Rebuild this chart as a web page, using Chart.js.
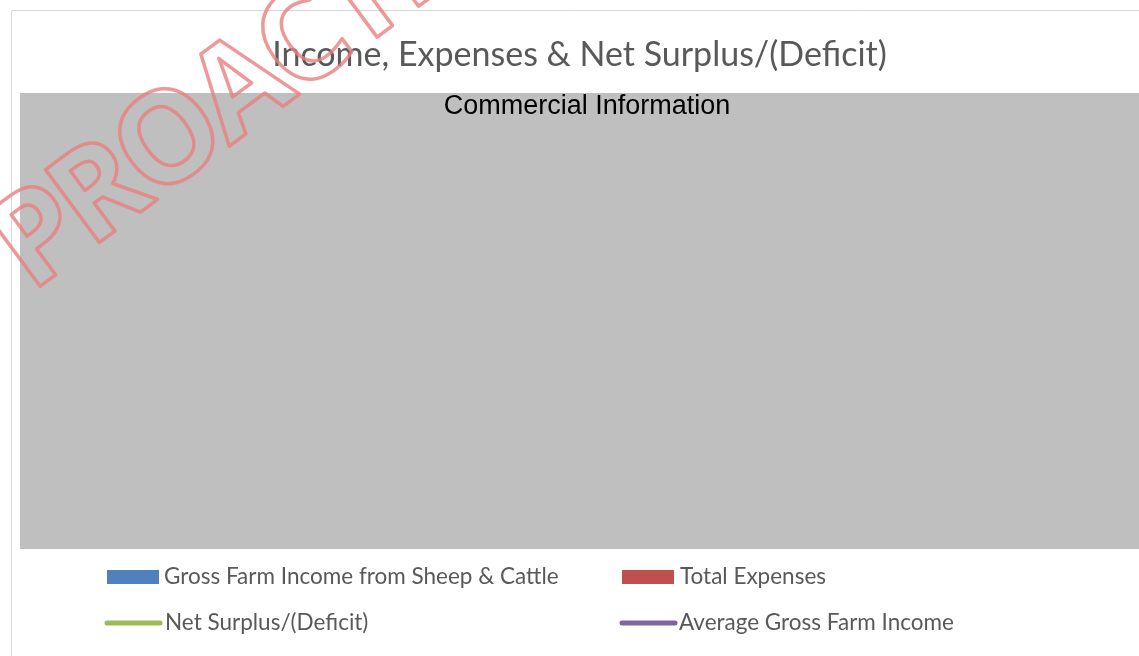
<!DOCTYPE html>
<html lang="en">
<head>
  <meta charset="UTF-8" />
  <title>Income, Expenses & Net Surplus/(Deficit)</title>
  <script src="https://cdn.jsdelivr.net/npm/chart.js"></script>
  <style>
    html, body { margin: 0; padding: 0; background: #fff; overflow: hidden; }
    #wrap { width: 1139px; height: 656px; }
  </style>
</head>
<body>
<div id="wrap"><canvas id="chart"></canvas></div>

<script>
// The plot area is covered by a grey "Commercial Information" panel, so no values show
const categories = [];
const grossIncome = [];
const totalExpenses = [];
const netSurplus = [];
const avgGrossIncome = [];

const seriesLabels = [
  'Gross Farm Income from Sheep & Cattle',
  'Total Expenses',
  'Net Surplus/(Deficit)',
  'Average Gross Farm Income'
];
const seriesColors = ['#4f81bd', '#c0504d', '#9bbb59', '#8064a2'];

const panelText = 'Commercial Information';
const watermarkText = 'PROACTIVE';

// grey panel over the plot area + chart border
const panelPlugin = {
  id: 'panel',
  beforeDraw(chart) {
    const ctx = chart.ctx;
    ctx.save();
    ctx.strokeStyle = '#d9d9d9';
    ctx.lineWidth = 1;
    ctx.beginPath();
    ctx.moveTo(11.5, chart.height + 5);
    ctx.lineTo(11.5, 10.5);
    ctx.lineTo(chart.width + 5, 10.5);
    ctx.stroke();
    ctx.restore();
  },
  afterDatasetsDraw(chart) {
    const ctx = chart.ctx;
    const a = chart.chartArea;
    ctx.save();
    ctx.fillStyle = '#bfbfbf';
    ctx.fillRect(a.left, a.top, a.right - a.left, a.bottom - a.top);
    ctx.fillStyle = '#000';
    ctx.font = '27px "Liberation Sans", Arial, sans-serif';
    ctx.textAlign = 'center';
    ctx.textBaseline = 'alphabetic';
    ctx.fillText(panelText, 587, a.top + 21);
    ctx.restore();
  }
};

// two-column legend, drawn under the panel
const legendPlugin = {
  id: 'twoColLegend',
  afterDraw(chart) {
    const ctx = chart.ctx;
    const items = [
      { x: 107, y: 577, text: 164 },
      { x: 622, y: 577, text: 680 },
      { x: 105, y: 623, text: 165 },
      { x: 620, y: 623, text: 679 }
    ];
    ctx.save();
    ctx.font = '22.5px Lato, "Open Sans", sans-serif';
    ctx.textBaseline = 'middle';
    ctx.textAlign = 'left';
    chart.data.datasets.forEach((ds, i) => {
      const it = items[i];
      if (ds.type === 'bar') {
        ctx.fillStyle = ds.backgroundColor;
        ctx.fillRect(it.x, it.y - 7, 52, 14);
      } else {
        ctx.strokeStyle = ds.borderColor;
        ctx.lineWidth = 5;
        ctx.lineCap = 'round';
        ctx.beginPath();
        ctx.moveTo(it.x + 2, it.y);
        ctx.lineTo(it.x + 55, it.y);
        ctx.stroke();
      }
      ctx.fillStyle = '#595959';
      ctx.fillText(ds.label, it.text, it.y);
    });
    ctx.restore();
  }
};

// red outlined watermark on top of everything
const watermarkPlugin = {
  id: 'watermark',
  afterDraw(chart) {
    const ctx = chart.ctx;
    ctx.save();
    ctx.translate(31, 293);
    ctx.rotate(-36.5 * Math.PI / 180);
    ctx.font = 'bold 127px "Open Sans", sans-serif';
    if ('letterSpacing' in ctx) ctx.letterSpacing = '-6px';
    ctx.textBaseline = 'alphabetic';
    ctx.strokeStyle = 'rgba(232, 128, 126, 0.8)';
    ctx.lineWidth = 3.5;
    ctx.lineJoin = 'round';
    ctx.strokeText(watermarkText, 0, 0);
    ctx.restore();
  }
};

new Chart(document.getElementById('chart'), {
  type: 'bar',
  data: {
    labels: categories,
    datasets: [
      { type: 'bar', label: seriesLabels[0], data: grossIncome, backgroundColor: seriesColors[0] },
      { type: 'bar', label: seriesLabels[1], data: totalExpenses, backgroundColor: seriesColors[1] },
      { type: 'line', label: seriesLabels[2], data: netSurplus, borderColor: seriesColors[2], borderWidth: 3, fill: false },
      { type: 'line', label: seriesLabels[3], data: avgGrossIncome, borderColor: seriesColors[3], borderWidth: 3, fill: false }
    ]
  },
  options: {
    responsive: true,
    maintainAspectRatio: false,
    animation: false,
    layout: { padding: { top: 0, left: 20, right: 0, bottom: 107 } },
    scales: {
      x: { display: false },
      y: { display: false }
    },
    plugins: {
      legend: { display: false },
      tooltip: { enabled: false },
      title: {
        display: true,
        text: 'Income, Expenses & Net Surplus/(Deficit)',
        color: '#595959',
        font: { family: 'Lato, "Open Sans", sans-serif', size: 34, weight: 'normal', lineHeight: 1.2 },
        padding: { top: 35, bottom: 17.2 }
      }
    }
  },
  plugins: [panelPlugin, legendPlugin, watermarkPlugin]
});
</script>
</body>
</html>
